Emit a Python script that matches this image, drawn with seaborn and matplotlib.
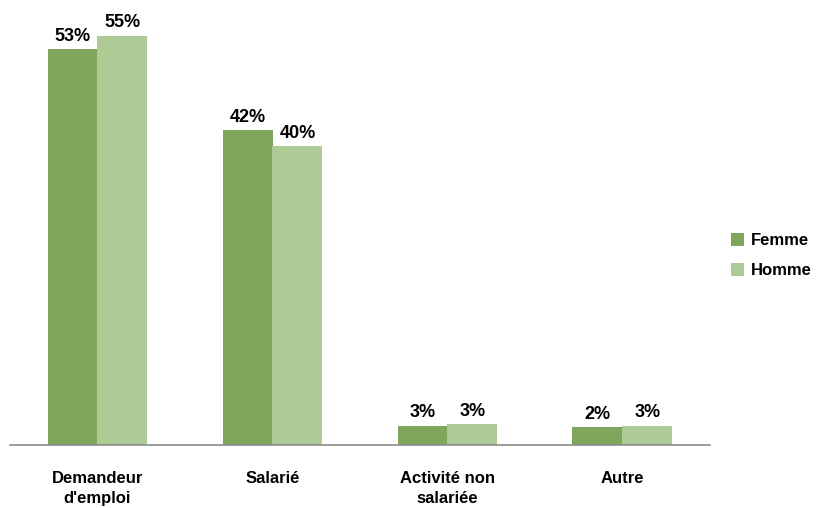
import pandas as pd
import matplotlib
matplotlib.use("Agg")
from matplotlib import pyplot as plt
import seaborn as sns

# dane (w %)
categories = ["Demandeur\nd'emploi", "Salarié", "Activité non\nsalariée", "Autre"]
femme = [53.2, 42.3, 2.6, 2.4]
homme = [55.0, 40.2, 2.8, 2.6]
series = ["Femme", "Homme"]
colors = ["#7fa65a", "#aecb96"]

df = pd.DataFrame({
    "cat": categories * 2,
    "sexe": [series[0]] * 4 + [series[1]] * 4,
    "val": femme + homme,
})

sns.set_style("white")
plt.rcParams["font.family"] = ["Liberation Sans", "DejaVu Sans"]

fig = plt.figure(figsize=(8.16, 5.08), dpi=100)
ax = fig.add_axes([10 / 816, 63 / 508, 700 / 816, 440 / 508])

sns.barplot(data=df, x="cat", y="val", hue="sexe", palette=colors,
            width=4 / 7, gap=0, saturation=1, linewidth=0, ax=ax, legend=True)

for cont, vals in zip(ax.containers, [femme, homme]):
    ax.bar_label(cont, labels=[f"{round(v)}%" for v in vals], padding=3,
                 fontsize=13, fontweight="bold", color="black")

ax.set_xlim(-0.5, 3.5)
ax.set_ylim(0, 59.1)
ax.set_xlabel("")
ax.set_ylabel("")
ax.set_yticks([])
for s in ["top", "right", "left"]:
    ax.spines[s].set_visible(False)
ax.spines["bottom"].set_color("#8c8c8c")
ax.spines["bottom"].set_linewidth(1.2)

# podzialki na granicach kategorii, etykiety na srodku
ax.set_xticks([-0.5, 0.5, 1.5, 2.5, 3.5])
ax.set_xticklabels([])
ax.tick_params(axis="x", which="major", length=8, width=1.2, color="#8c8c8c", direction="out")
ax.set_xticks(range(4), minor=True)
ax.set_xticklabels(categories, minor=True, fontsize=12, fontweight="bold",
                   color="black", linespacing=1.35)
ax.tick_params(axis="x", which="minor", length=0, pad=19)

leg = ax.legend(loc="center left", bbox_to_anchor=(1.008, 0.43), frameon=False,
                handlelength=0.8, handleheight=0.8, handletextpad=0.4,
                labelspacing=0.9, prop={"weight": "bold", "size": 12})
for t in leg.get_texts():
    t.set_color("black")

fig.savefig("out.png", dpi=100)
